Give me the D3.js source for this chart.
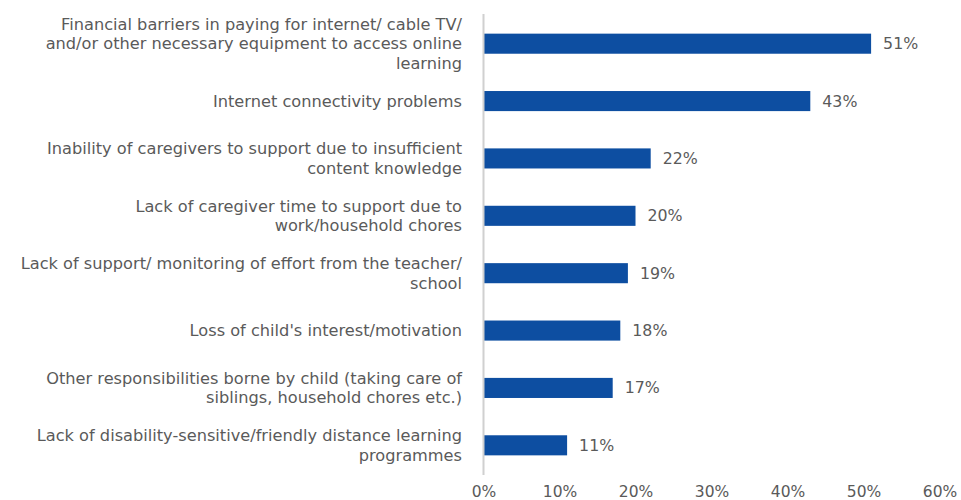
<!DOCTYPE html>
<html>
<head>
<meta charset="utf-8">
<script src="https://cdn.jsdelivr.net/npm/d3@7"></script>
<style>
  html, body { margin: 0; padding: 0; background: #fff; }
  svg { display: block; font-family: "DejaVu Sans", sans-serif; }
</style>
</head>
<body>
<svg id="chart" width="961" height="500"></svg>
<script>
// Barriers to distance learning, share of respondents (%)
const categories = [
  ["Financial barriers in paying for internet/ cable TV/", "and/or other necessary equipment to access online", "learning"],
  ["Internet connectivity problems"],
  ["Inability of caregivers to support due to insufficient", "content knowledge"],
  ["Lack of caregiver time to support due to", "work/household chores"],
  ["Lack of support/ monitoring of effort from the teacher/", "school"],
  ["Loss of child's interest/motivation"],
  ["Other responsibilities borne by child (taking care of", "siblings, household chores etc.)"],
  ["Lack of disability-sensitive/friendly distance learning", "programmes"]
];
const values = [51, 43, 22, 20, 19, 18, 17, 11];
const tickValues = [0, 10, 20, 30, 40, 50, 60];

const svg = d3.select("#chart");
const x0 = 483.5, x1 = 939.5;
const x = d3.scaleLinear().domain([0, 60]).range([x0, x1]);
const keys = categories.map((c, i) => i);
const y = d3.scaleBand().domain(keys).range([15, 474])
  .paddingInner(0.65).paddingOuter(0.325);

const textColor = "#5a5a5a";
const barColor = "#0d4ea1";

// bars
svg.append("g").selectAll("rect").data(values).join("rect")
  .attr("x", x(0))
  .attr("y", (d, i) => y(i))
  .attr("width", d => x(d) - x(0))
  .attr("height", y.bandwidth())
  .attr("fill", barColor);

// value labels
svg.append("g").selectAll("text").data(values).join("text")
  .attr("x", d => x(d) + 12)
  .attr("y", (d, i) => y(i) + y.bandwidth() / 2)
  .attr("dy", "0.35em")
  .attr("fill", textColor)
  .attr("font-size", 15.8)
  .text(d => d + "%");

// category labels (multi-line, right aligned)
const lineH = 19.5;
const labels = svg.append("g").selectAll("text").data(categories).join("text")
  .attr("text-anchor", "end")
  .attr("fill", textColor)
  .attr("font-size", 16.2)
  .attr("y", (d, i) => y(i) + y.bandwidth() / 2 - (d.length - 1) * lineH / 2);
labels.selectAll("tspan").data(d => d).join("tspan")
  .attr("x", 462)
  .attr("dy", (d, j) => j === 0 ? "0.35em" : lineH)
  .text(d => d);

// vertical axis line
svg.append("line")
  .attr("x1", x(0)).attr("x2", x(0))
  .attr("y1", 14).attr("y2", 475)
  .attr("stroke", "#d0d0d0")
  .attr("stroke-width", 2);

// x axis tick labels
const xAxis = d3.axisBottom(x).tickValues(tickValues)
  .tickFormat(d => d + "%").tickSize(0).tickPadding(0);
const gx = svg.append("g").attr("transform", "translate(0,486)").call(xAxis);
gx.select(".domain").remove();
gx.selectAll("text")
  .attr("fill", textColor)
  .attr("font-size", 15.5)
  .attr("font-family", "DejaVu Sans, sans-serif");
</script>
</body>
</html>
